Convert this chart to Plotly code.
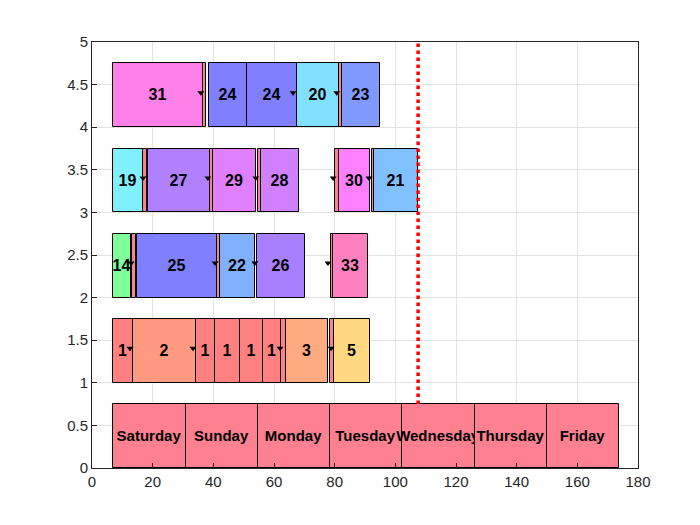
import plotly.graph_objects as go

# rows: (label, start, end, color)
row4 = [("31", 7.0, 36.6, "#FF80E8"), ("24", 38.7, 51.2, "#8080FF"), ("24", 51.2, 67.5, "#8080FF"),
        ("20", 67.5, 81.3, "#80E0FF"), ("23", 82.4, 95.1, "#8099FF")]
row3 = [("19", 7.0, 16.9, "#80F0FF"), ("27", 18.6, 38.9, "#B080FF"), ("29", 39.9, 54.1, "#E080FF"),
        ("28", 55.8, 68.1, "#D080FF"), ("30", 81.3, 91.5, "#FF80FF"), ("21", 93.1, 107.5133, "#80C0FF")]
row2 = [("14", 7.0, 12.8, "#80FF99"), ("25", 14.9, 41.1, "#8080FF"), ("22", 42.2, 53.6, "#80B0FF"),
        ("26", 54.5, 70.3, "#A880FF"), ("33", 79.3, 90.9, "#FF80C0")]
row1 = [("1", 7.0, 13.4, "#FF8080"), ("2", 13.4, 34.2, "#FF9980"), ("1", 34.2, 40.5, "#FF8080"),
        ("1", 40.5, 48.9, "#FF8080"), ("1", 48.9, 56.3, "#FF8080"), ("1", 56.3, 62.4, "#FF8080"),
        ("3", 64.1, 77.7, "#FFAA80"), ("5", 79.9, 91.8, "#FFD880")]
days = ["Saturday", "Sunday", "Monday", "Tuesday", "Wednesday", "Thursday", "Friday"]
day_start = 7.0
day_len = 23.83
setups = {4: [(36.6, 37.7), (81.3, 82.4)],
          3: [(16.9, 18.0), (38.9, 39.9), (54.6, 55.8), (80.2, 81.3), (92.2, 92.9)],
          2: [(13.3, 14.4), (41.1, 42.2), (78.8, 79.3)],
          1: [(62.4, 64.1), (78.6, 79.9)]}
arrows = {4: [35.9, 66.3, 80.7], 3: [16.8, 38.2, 54.0, 79.5, 91.3],
          2: [12.9, 40.6, 53.7, 77.8], 1: [12.5, 33.3, 62.0, 78.8]}
cmax = 107.5133

fig = go.Figure()
H = 0.75

def add_bars(row, items, textsize=16):
    fig.add_trace(go.Bar(
        orientation="h", y=[row + H / 2] * len(items),
        base=[s for _, s, e, _ in items], x=[e - s for _, s, e, _ in items],
        width=H, marker=dict(color=[c for *_, c in items], line=dict(color="black", width=1)),
        text=[t for t, *_ in items], textposition="inside", insidetextanchor="middle",
        textangle=0, constraintext="none", cliponaxis=False,
        textfont=dict(family="Liberation Sans", size=textsize, color="black", weight="bold"),
        showlegend=False, hoverinfo="skip"))

for r, items in setups.items():
    add_bars(r, [(" ", s, e, "#FF8090") for s, e in items], 1)
add_bars(4, row4); add_bars(3, row3); add_bars(2, row2); add_bars(1, row1)
add_bars(0, [(d, day_start + i * day_len, day_start + (i + 1) * day_len, "#FF8090") for i, d in enumerate(days)], 15)

for r, xs in arrows.items():
    fig.add_trace(go.Scatter(x=xs, y=[r + H / 2 + 0.03] * len(xs), mode="markers",
                             marker=dict(symbol="triangle-down", size=6, color="black"),
                             showlegend=False, hoverinfo="skip"))

fig.add_trace(go.Scatter(x=[cmax, cmax], y=[0.75, 5], mode="lines",
                         line=dict(color="red", width=3.5, dash="dot"), showlegend=False, hoverinfo="skip"))
fig.add_annotation(x=85, y=5.03, yanchor="top", xanchor="center", showarrow=False,
                   text="<b>C<sub>max</sub> = 107.5133</b>",
                   font=dict(family="Liberation Sans", size=16, color="red"))

ax = dict(showline=True, mirror=True, linecolor="#262626", ticks="inside", ticklen=5,
          tickcolor="#262626", gridcolor="#E3E3E3", zeroline=False,
          tickfont=dict(family="Liberation Sans", size=15, color="#262626"))
fig.update_xaxes(range=[0, 180], dtick=20, **ax)
fig.update_yaxes(range=[0, 5], dtick=0.5, **ax)
fig.update_layout(width=700, height=525, barmode="overlay", bargap=0,
                  plot_bgcolor="white", paper_bgcolor="white",
                  margin=dict(l=84, r=70, t=34, b=65))
fig.write_html("out.html")
